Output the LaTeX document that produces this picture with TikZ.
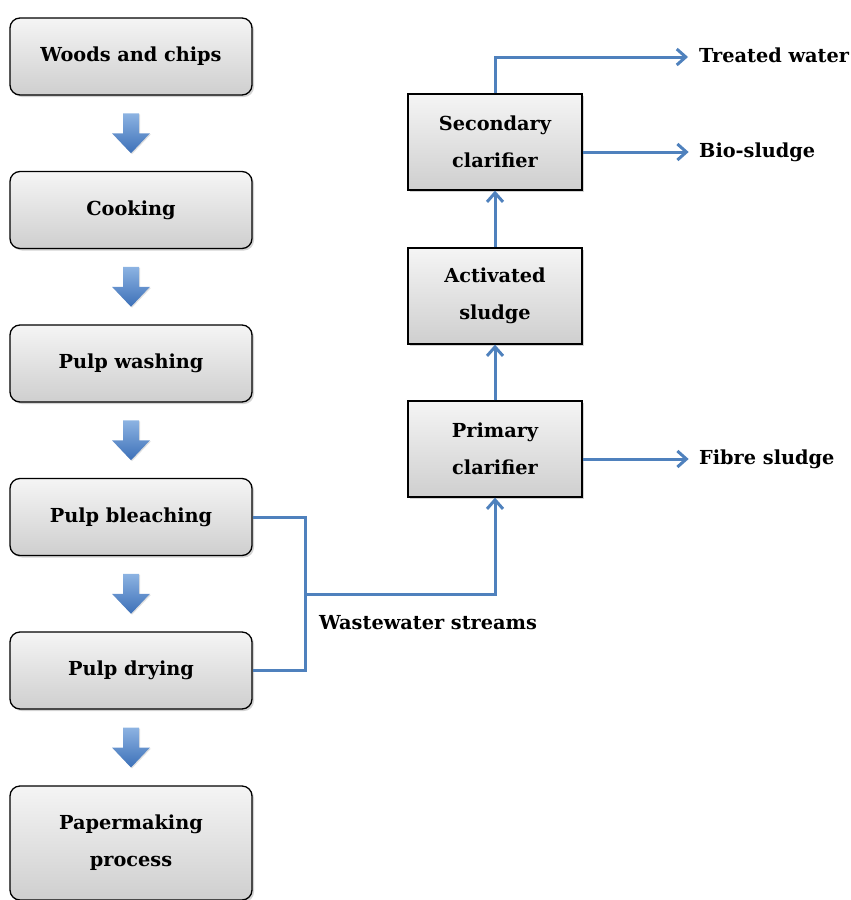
\documentclass[tikz,border=0pt]{standalone}
\usepackage{fontspec}
\setmainfont{DejaVu Serif}
\usetikzlibrary{arrows.meta,shadows,calc}
\definecolor{lineblue}{HTML}{4F81BD}
\definecolor{arrtop}{HTML}{8DB3E2}
\definecolor{arrbot}{HTML}{3C70B8}
\tikzset{
  procbox/.style={draw=black, line width=1.3pt, rounded corners=10pt, top color=gray!8, bottom color=gray!38,
    minimum width=242pt, minimum height=77pt, align=center, font=\bfseries\fontsize{19.3}{37}\selectfont,
    drop shadow={opacity=0.35, shadow xshift=2pt, shadow yshift=-2pt}},
  treatbox/.style={draw=black, line width=1.3pt, top color=gray!8, bottom color=gray!38,
    minimum width=174pt, minimum height=96pt, align=center, font=\bfseries\fontsize{19.3}{37}\selectfont,
    drop shadow={opacity=0.35, shadow xshift=2pt, shadow yshift=-2pt}},
  flow/.style={draw=lineblue, line width=3pt},
  flowarrow/.style={flow, -{Straight Barb[length=9pt,width=16pt,line width=3pt]}},
  lbl/.style={font=\bfseries\fontsize{19.3}{20}\selectfont, anchor=west, inner sep=0pt},
  blockarr/.style={top color=arrtop, bottom color=arrbot, draw=none,
    drop shadow={opacity=0.25, shadow xshift=1pt, shadow yshift=-1pt}}
}
\begin{document}
\begin{tikzpicture}[x=1pt,y=-1pt]
\useasboundingbox (0,0) rectangle (851,900);
% left process boxes
\node[procbox] (wood) at (131,56.5) {Woods and chips};
\node[procbox] (cook) at (131,210) {Cooking};
\node[procbox] (wash) at (131,363.5) {Pulp washing};
\node[procbox] (bleach) at (131,517) {Pulp bleaching};
\node[procbox] (dry) at (131,670.5) {Pulp drying};
\node[procbox, minimum height=114pt] (paper) at (131,843) {Papermaking\\process};
% block arrows
\foreach \a/\b in {wood/cook, cook/wash, wash/bleach, bleach/dry, dry/paper}{
  \path ($(\a.south)!0.5!(\b.north)$) coordinate (m);
  \path[blockarr] ($(m)+(-8,-20)$) -- ($(m)+(8,-20)$) -- ($(m)+(8,0)$) -- ($(m)+(19,0)$)
     -- ($(m)+(0,20)$) -- ($(m)+(-19,0)$) -- ($(m)+(-8,0)$) -- cycle;
}
% treatment boxes
\node[treatbox] (sec) at (495,142) {Secondary\\clarifier};
\node[treatbox] (act) at (495,296) {Activated\\sludge};
\node[treatbox] (pri) at (495,449) {Primary\\clarifier};
% outputs
\node[lbl] (tw) at (699,55) {Treated water};
\node[lbl] (bio) at (699,152) {Bio-sludge};
\node[lbl] (fib) at (699,459) {Fibre sludge};
\coordinate (twend) at (688,57);
\draw[flowarrow] (sec.north) |- (twend);
\draw[flowarrow] (sec.east |- bio) -- ++(106,0);
\draw[flowarrow] (pri.east |- fib) -- ++(106,0);
\draw[flowarrow] (act.north) -- (sec.south);
\draw[flowarrow] (pri.north) -- (act.south);
% wastewater
\coordinate (j1) at (305,517);
\coordinate (j2) at (305,670.5);
\coordinate (j3) at (305,594);
\draw[flow] (bleach.east) -- (j1) -- (j2) -- (dry.east);
\draw[flowarrow] (j3) -| (pri.south);
\node[lbl] (ww) at (319,623) {Wastewater streams};
\end{tikzpicture}
\end{document}
